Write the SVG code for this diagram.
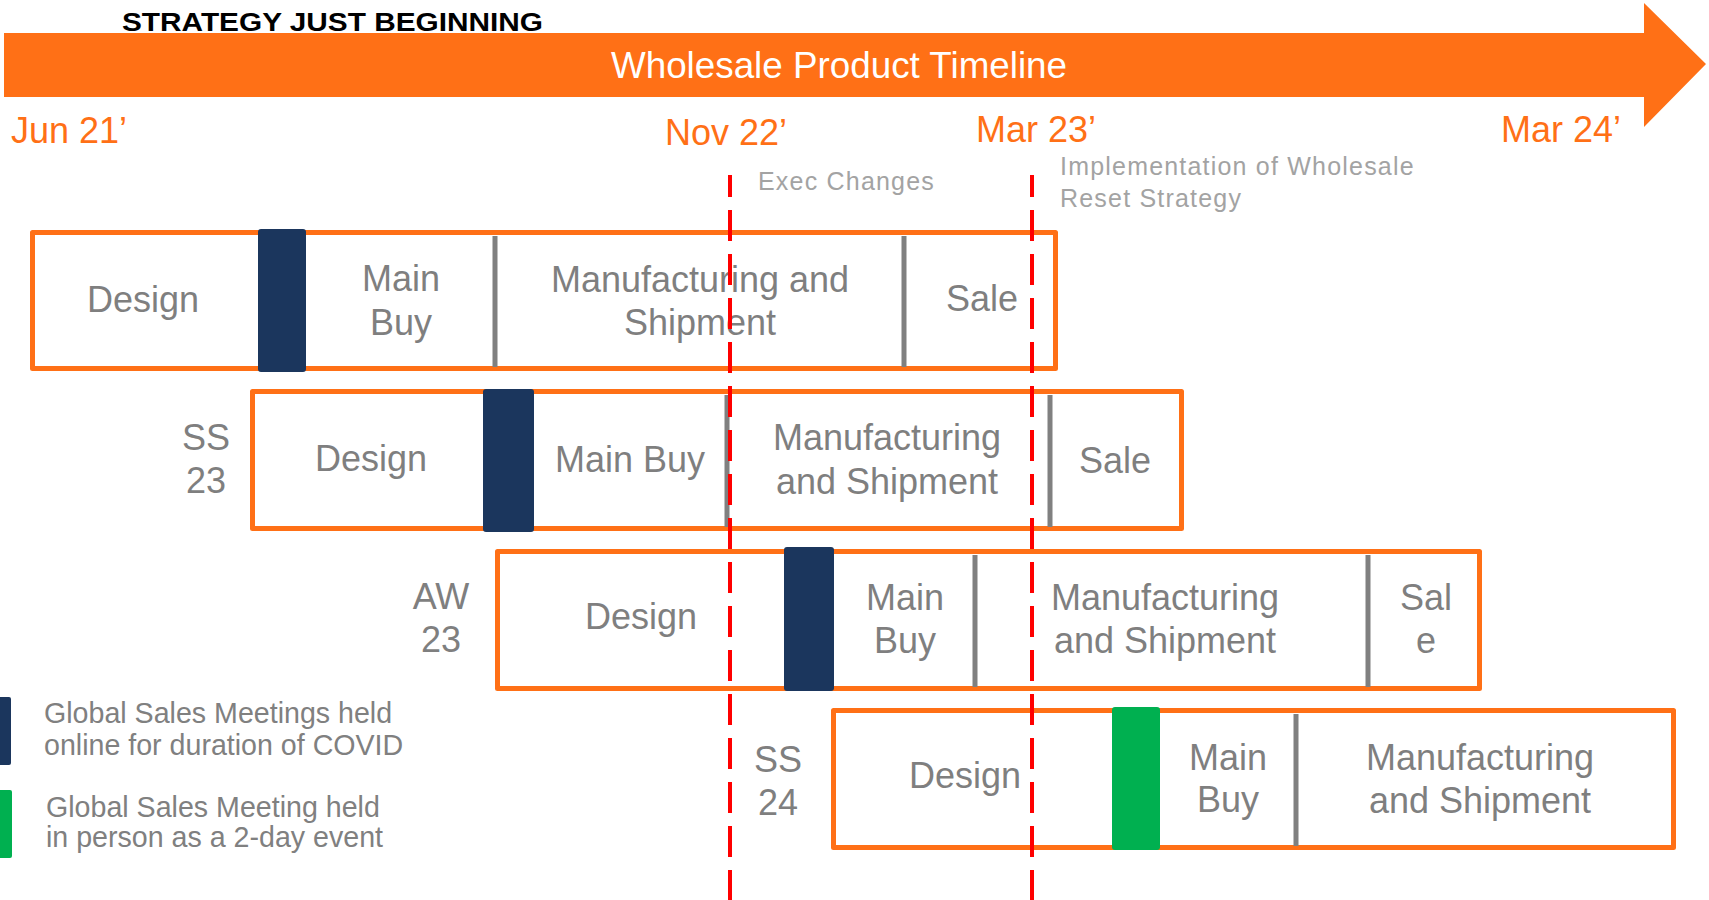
<svg xmlns="http://www.w3.org/2000/svg" width="1709" height="900" viewBox="0 0 1709 900">
  <style>
    text { font-family: "Liberation Sans", Arial, sans-serif; }
    .phase { fill: #ffffff; stroke: #FF7016; stroke-width: 5; stroke-linejoin: round; }
    .lbl { fill: #7F7F7F; font-size: 36px; text-anchor: middle; }
    .date { fill: #FF7016; font-size: 36px; }
    .note { fill: #A3A3A3; font-size: 25px; letter-spacing: 1.2px; }
    .legend { fill: #808080; font-size: 28.6px; }
    .div { stroke: #808080; stroke-width: 5; }
    .online { fill: #1B365D; }
    .inperson { fill: #00B050; }
    .cut { stroke: #FF0000; stroke-width: 4; stroke-dasharray: 31 13; stroke-dashoffset: 9; fill: none; }
  </style>

  <!-- Timeline banner -->
  <g id="banner">
    <polygon points="4,33 1644,33 1644,3 1706,64 1644,127 1644,97 4,97" fill="#FF7016"/>
    <text x="839" y="78" font-size="36.8" fill="#ffffff" text-anchor="middle">Wholesale Product Timeline</text>
    <text x="122" y="31" font-family="Inter, 'Liberation Sans', sans-serif" font-size="26" font-weight="600" fill="#000000" textLength="421" lengthAdjust="spacingAndGlyphs">STRATEGY JUST BEGINNING</text>
  </g>

  <!-- Date markers -->
  <g id="dates">
    <text class="date" x="11" y="143">Jun 21’</text>
    <text class="date" x="665" y="145">Nov 22’</text>
    <text class="date" x="976" y="142">Mar 23’</text>
    <text class="date" x="1501" y="142">Mar 24’</text>
  </g>

  <!-- Milestone notes -->
  <g id="notes">
    <text class="note" x="758" y="190">Exec Changes</text>
    <text class="note" x="1060" y="175">Implementation of Wholesale</text>
    <text class="note" x="1060" y="207">Reset Strategy</text>
  </g>

  <!-- Season row 1 -->
  <g id="row1">
    <rect class="phase" x="32.5" y="232.5" width="1023" height="136"/>
    <rect class="online" x="258" y="229" width="48" height="143" rx="3"/>
    <line class="div" x1="495" y1="236" x2="495" y2="367"/>
    <line class="div" x1="904" y1="236" x2="904" y2="367"/>
    <text class="lbl" x="143" y="312">Design</text>
    <text class="lbl" x="401" y="291">Main</text>
    <text class="lbl" x="401" y="335">Buy</text>
    <text class="lbl" x="700" y="292">Manufacturing and</text>
    <text class="lbl" x="700" y="335">Shipment</text>
    <text class="lbl" x="982" y="311">Sale</text>
  </g>

  <!-- Season row 2: SS 23 -->
  <g id="row-ss23">
    <text class="lbl" x="206" y="450">SS</text>
    <text class="lbl" x="206" y="493">23</text>
    <rect class="phase" x="252.5" y="391.5" width="929" height="137"/>
    <rect class="online" x="483" y="389" width="51" height="143" rx="3"/>
    <line class="div" x1="727" y1="395" x2="727" y2="527"/>
    <line class="div" x1="1050" y1="395" x2="1050" y2="527"/>
    <text class="lbl" x="371" y="471">Design</text>
    <text class="lbl" x="630" y="472">Main Buy</text>
    <text class="lbl" x="887" y="450">Manufacturing</text>
    <text class="lbl" x="887" y="494">and Shipment</text>
    <text class="lbl" x="1115" y="473">Sale</text>
  </g>

  <!-- Season row 3: AW 23 -->
  <g id="row-aw23">
    <text class="lbl" x="441" y="609">AW</text>
    <text class="lbl" x="441" y="652">23</text>
    <rect class="phase" x="497.5" y="551.5" width="982" height="137"/>
    <rect class="online" x="784" y="547" width="50" height="144" rx="3"/>
    <line class="div" x1="975" y1="555" x2="975" y2="687"/>
    <line class="div" x1="1368" y1="555" x2="1368" y2="687"/>
    <text class="lbl" x="641" y="629">Design</text>
    <text class="lbl" x="905" y="610">Main</text>
    <text class="lbl" x="905" y="653">Buy</text>
    <text class="lbl" x="1165" y="610">Manufacturing</text>
    <text class="lbl" x="1165" y="653">and Shipment</text>
    <text class="lbl" x="1426" y="610">Sal</text>
    <text class="lbl" x="1426" y="653">e</text>
  </g>

  <!-- Season row 4: SS 24 -->
  <g id="row-ss24">
    <text class="lbl" x="778" y="772">SS</text>
    <text class="lbl" x="778" y="815">24</text>
    <rect class="phase" x="833.5" y="710.5" width="840" height="137"/>
    <rect class="inperson" x="1112" y="707" width="48" height="143" rx="3"/>
    <line class="div" x1="1296" y1="714" x2="1296" y2="846"/>
    <text class="lbl" x="965" y="788">Design</text>
    <text class="lbl" x="1228" y="770">Main</text>
    <text class="lbl" x="1228" y="812">Buy</text>
    <text class="lbl" x="1480" y="770">Manufacturing</text>
    <text class="lbl" x="1480" y="813">and Shipment</text>
  </g>

  <!-- Legend -->
  <g id="legend">
    <rect class="online" x="-3" y="697" width="14" height="68" rx="2"/>
    <text class="legend" x="44" y="723">Global Sales Meetings held</text>
    <text class="legend" x="44" y="755">online for duration of COVID</text>
    <rect class="inperson" x="-3" y="790" width="15" height="68" rx="2"/>
    <text class="legend" x="46" y="817">Global Sales Meeting held</text>
    <text class="legend" x="46" y="847">in person as a 2-day event</text>
  </g>

  <!-- Milestone cut lines -->
  <g id="connectors">
    <line class="cut" x1="730" y1="175" x2="730" y2="900"/>
    <line class="cut" x1="1032" y1="175" x2="1032" y2="900"/>
  </g>
</svg>
